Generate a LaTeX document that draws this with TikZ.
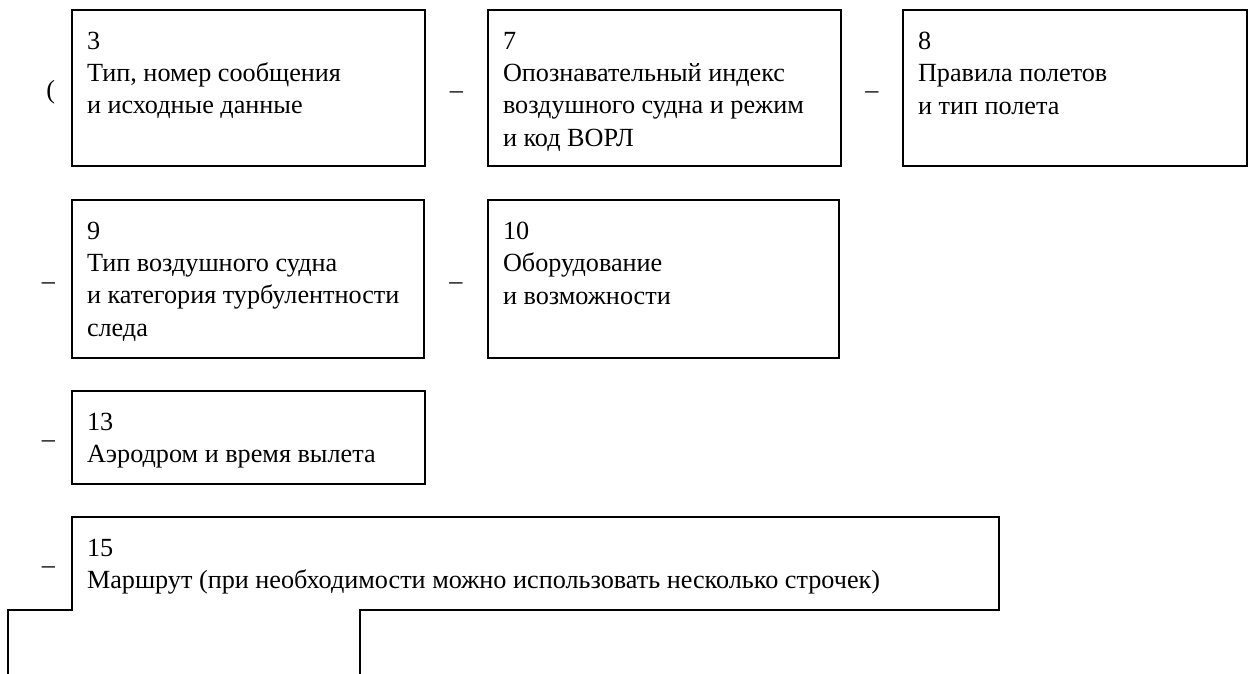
\documentclass[tikz,border=0pt]{standalone}
\usepackage{fontspec}
\setmainfont{Liberation Serif}
\newfontfamily\formfont{Liberation Serif}
\usepackage{tikz}
\usetikzlibrary{positioning,calc}
\definecolor{ink}{HTML}{000000}
\tikzset{
    every picture/.style={line cap=rect,line join=miter},
    formbox/.style={draw=ink,line width=1.5pt,inner sep=0pt,outer sep=0pt,
      minimum width=353pt},
    formline/.style={draw=ink,line width=1.5pt},
    fieldtext/.style={inner sep=0pt,outer sep=0pt,align=left,anchor=north west,
      text=ink,font=\formfont\fontsize{26.2}{32.3}\selectfont},
    sepmark/.style={inner sep=0pt,outer sep=0pt,text=ink,yshift=-7pt,
      font=\formfont\fontsize{26.2}{32.3}\selectfont}
}

\begin{document}
\begin{tikzpicture}[x=1pt,y=-1pt]
  \useasboundingbox (0,0) rectangle (1248,673);
  \node[formbox,minimum height=156pt,anchor=north west] (b3) at (72,10) {};
  \node[formbox,minimum height=156pt,right=63pt of b3] (b7) {};
  \node[formbox,minimum height=156pt,minimum width=344pt,right=62pt of b7] (b8) {};
  \node[formbox,minimum height=158pt,minimum width=352pt,below=34pt of b3.south west,anchor=north west] (b9) {};
  \node[formbox,minimum height=158pt,minimum width=351pt,right=64pt of b9] (b10) {};
  \node[formbox,minimum height=93pt,below=33pt of b9.south west,anchor=north west] (b13) {};
  \node[formbox,draw=none,minimum height=93pt,minimum width=927pt,below=33pt of b13.south west,anchor=north west] (b15) {};
  \coordinate (cut) at ([xshift=288pt]b15.south west);
  \coordinate (lfoot) at ([xshift=-64pt]b15.south west);
  \coordinate (lbase) at (lfoot |- 0,680);
  \coordinate (cbase) at (cut |- 0,680);
  \draw[formline] (cut) -- (b15.south east) -- (b15.north east) -- (b15.north west) -- (b15.south west) -- (lfoot) -- (lbase);
  \draw[formline] (cut) -- (cbase);
  \node[fieldtext,below right=22pt and 15pt of b3.north west] (t3) {3\\Тип, номер сообщения\\и исходные данные};
  \node[fieldtext,below right=22pt and 15pt of b7.north west] (t7) {7\\Опознавательный индекс\\воздушного судна и режим\\и код ВОРЛ};
  \node[fieldtext,below right=22pt and 15pt of b8.north west] (t8) {8\\Правила полетов\\и тип полета};
  \node[fieldtext,below right=22pt and 15pt of b9.north west] (t9) {9\\Тип воздушного судна\\и категория турбулентности\\следа};
  \node[fieldtext,below right=22pt and 15pt of b10.north west] (t10) {10\\Оборудование\\и возможности};
  \node[fieldtext,below right=22pt and 15pt of b13.north west] (t13) {13\\Аэродром и время вылета};
  \node[fieldtext,below right=22pt and 15pt of b15.north west] (t15) {15\\Маршрут (при необходимости можно использовать несколько строчек)};
  \node[sepmark,left=17pt of b3,yshift=3pt] (open) {(};
  \node[sepmark] (s1) at ($(b3.east)!0.5!(b7.west)$) {–};
  \node[sepmark] (s2) at ($(b7.east)!0.5!(b8.west)$) {–};
  \node[sepmark,left=17pt of b9] (s3) {–};
  \node[sepmark] (s4) at ($(b9.east)!0.5!(b10.west)$) {–};
  \node[sepmark,left=17pt of b13] (s5) {–};
  \node[sepmark,left=17pt of b15] (s6) {–};
\end{tikzpicture}
\end{document}
